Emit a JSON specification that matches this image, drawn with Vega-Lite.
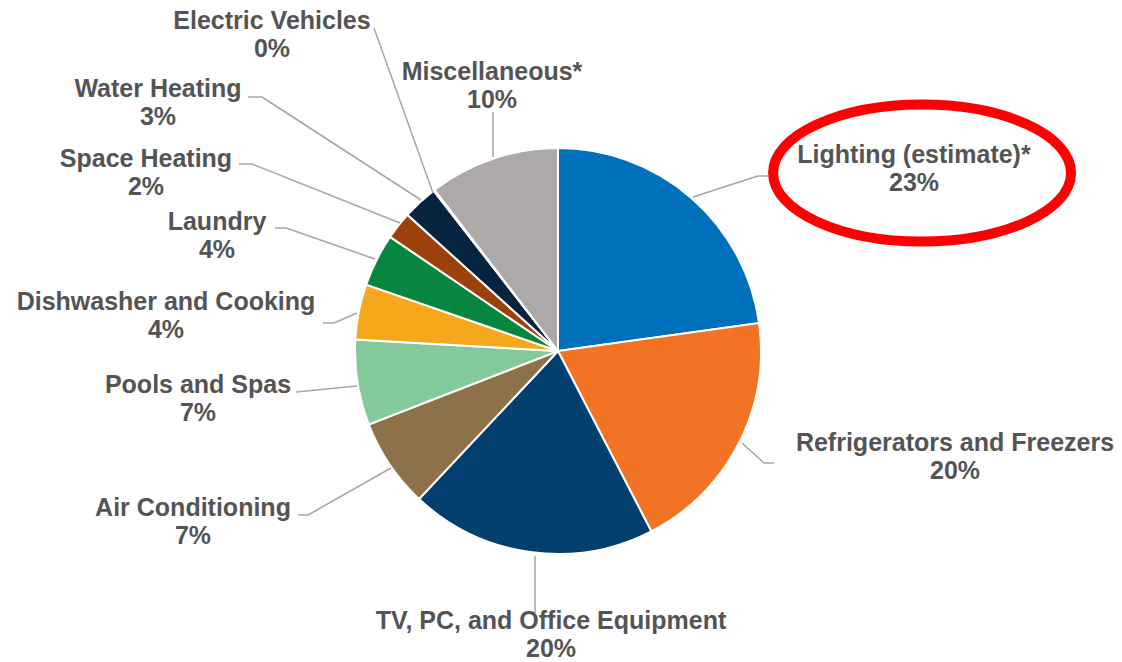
{
  "$schema": "https://vega.github.io/schema/vega-lite/v6.json",
  "width": 1122,
  "height": 662,
  "padding": 0,
  "autosize": {"type": "none"},
  "background": "white",
  "config": {"view": {"stroke": null}},
  "data": {
    "values": [
      {"category": "Lighting (estimate)*", "share": 0.228},
      {"category": "Refrigerators and Freezers", "share": 0.196},
      {"category": "TV, PC, and Office Equipment", "share": 0.196},
      {"category": "Air Conditioning", "share": 0.071},
      {"category": "Pools and Spas", "share": 0.068},
      {"category": "Dishwasher and Cooking", "share": 0.044},
      {"category": "Laundry", "share": 0.042},
      {"category": "Space Heating", "share": 0.022},
      {"category": "Water Heating", "share": 0.028},
      {"category": "Electric Vehicles", "share": 0.001},
      {"category": "Miscellaneous*", "share": 0.104}
    ]
  },
  "transform": [
    {"window": [{"op": "row_number", "as": "rank"}]},
    {"calculate": "[914,955,551,193,198,166,217,146,158,272,492][datum.rank-1]", "as": "lx"},
    {"calculate": "[155,443,621,508,385,302,222,159,89,21,72][datum.rank-1]", "as": "ly"},
    {"calculate": "datum.ly + 28", "as": "ly2"},
    {"calculate": "[693,742,535,391,357,357,375,400,421,433,493][datum.rank-1]", "as": "ax"},
    {"calculate": "[197,443,556,468,386,313,259,223,200,193,157][datum.rank-1]", "as": "ay"},
    {"calculate": "[758,764,535,308,296,334,286,252,262,374,493][datum.rank-1]", "as": "bx"},
    {"calculate": "[176,463,613,515,392,323,228,164,97,28,112][datum.rank-1]", "as": "by"},
    {"calculate": "[768,774,535,298,296,323,275,239,248,374,493][datum.rank-1]", "as": "cx"},
    {"calculate": "[176,463,613,515,392,323,228,164,97,28,112][datum.rank-1]", "as": "cy"}
  ],
  "layer": [
    {
      "mark": {"type": "arc", "outerRadius": 203, "stroke": "white", "strokeWidth": 2},
      "encoding": {
        "theta": {"field": "share", "type": "quantitative", "stack": true},
        "order": {"field": "rank", "type": "quantitative"},
        "color": {
          "field": "category",
          "type": "nominal",
          "legend": null,
          "scale": {
            "domain": ["Lighting (estimate)*", "Refrigerators and Freezers", "TV, PC, and Office Equipment", "Air Conditioning", "Pools and Spas", "Dishwasher and Cooking", "Laundry", "Space Heating", "Water Heating", "Electric Vehicles", "Miscellaneous*"],
            "range": ["#0070BA", "#F17323", "#023F6E", "#8D7249", "#83C99B", "#F6A81D", "#078640", "#9C400C", "#062440", "#5B9BD5", "#ACA9A8"]
          }
        },
        "x": {"datum": 558, "type": "quantitative", "axis": null, "scale": {"type": "linear", "domain": [0, 1122], "range": [0, 1122], "zero": false, "nice": false}},
        "y": {"datum": 351, "type": "quantitative", "axis": null, "scale": {"type": "linear", "domain": [0, 662], "range": [0, 662], "zero": false, "nice": false}}
      }
    },
    {
      "mark": {"type": "rule", "color": "#A6A6A6", "strokeWidth": 1.5},
      "encoding": {
        "x": {"field": "ax", "type": "quantitative", "axis": null},
        "y": {"field": "ay", "type": "quantitative", "axis": null},
        "x2": {"field": "bx"},
        "y2": {"field": "by"}
      }
    },
    {
      "mark": {"type": "rule", "color": "#A6A6A6", "strokeWidth": 1.5},
      "encoding": {
        "x": {"field": "bx", "type": "quantitative", "axis": null},
        "y": {"field": "by", "type": "quantitative", "axis": null},
        "x2": {"field": "cx"},
        "y2": {"field": "cy"}
      }
    },
    {
      "mark": {"type": "text", "font": "Liberation Sans", "fontWeight": "bold", "fontSize": 25, "color": "#545454", "align": "center", "baseline": "middle"},
      "encoding": {
        "x": {"field": "lx", "type": "quantitative", "axis": null},
        "y": {"field": "ly", "type": "quantitative", "axis": null},
        "text": {"field": "category", "type": "nominal"}
      }
    },
    {
      "mark": {"type": "text", "font": "Liberation Sans", "fontWeight": "bold", "fontSize": 25, "color": "#545454", "align": "center", "baseline": "middle"},
      "encoding": {
        "x": {"field": "lx", "type": "quantitative", "axis": null},
        "y": {"field": "ly2", "type": "quantitative", "axis": null},
        "text": {"field": "share", "type": "quantitative", "format": ".0%"}
      }
    },
    {
      "transform": [{"filter": "datum.rank == 1"}],
      "mark": {
        "type": "point",
        "shape": "M -0.946 0.121 A 1 0.46 0 1 1 1.054 0.121 A 1 0.46 0 1 1 -0.946 0.121 Z",
        "size": 88804,
        "filled": false,
        "stroke": "#FF0000",
        "strokeWidth": 10,
        "opacity": 1
      },
      "encoding": {
        "x": {"field": "lx", "type": "quantitative", "axis": null},
        "y": {"field": "ly", "type": "quantitative", "axis": null}
      }
    }
  ]
}
